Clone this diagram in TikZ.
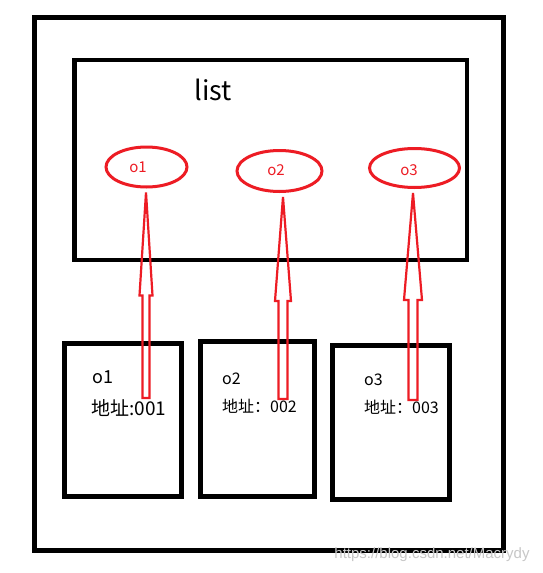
\documentclass[tikz,border=0pt]{standalone}
\usepackage{fontspec}
\setmainfont{Noto Sans CJK SC}
\newfontfamily\markfont{Liberation Sans}
\usetikzlibrary{positioning,calc,shapes.geometric}

\definecolor{paintred}{RGB}{237,28,36}

\tikzset{
    frame/.style={draw=black, line width=4.5pt, inner sep=0pt},
    objbox/.style={draw=black, line width=5pt, inner sep=0pt},
    refnode/.style={ellipse, draw=paintred, line width=3pt, inner sep=0pt},
    reflabel/.style={text=paintred, font=\fontsize{15}{15}\selectfont, inner sep=0pt},
    objtext/.style={anchor=west, inner sep=0pt},
    refline/.style={draw=paintred, line width=2.2pt, line join=miter}
}

% hollow block arrow: #1 start, #2 target node, #3 head length, #4 shaft half width, #5 head half width
\newcommand{\hollowarrow}[5]{%
    \draw[refline] let \p1=(#1), \p2=([yshift=-4pt]#2.south) in
        (\x1-#4,\y1) -- (\x1-#4,\y2-#3) -- (\x1-#5,\y2-#3) -- (\x1,\y2)
        -- (\x1+#5,\y2-#3) -- (\x1+#4,\y2-#3) -- (\x1+#4,\y1) -- cycle;
}

\begin{document}
\begin{tikzpicture}[x=1pt, y=-1pt]
    \useasboundingbox[fill=white] (0,0) rectangle (543,573);

    % Outer frame and list
    \node[frame, minimum width=469pt, minimum height=533pt] (outer) at (269,284) {};
    \node[frame, minimum width=392.5pt, minimum height=200pt] (list) at (270.75,160) {};
    \node[inner sep=0pt, font=\fontsize{27}{27}\selectfont] (listname) at (213,90) {list};

    % References held by the list
    \node[refnode, minimum width=81pt, minimum height=40pt] (o1) at (146.5,167) {};
    \node[refnode, minimum width=85pt, minimum height=41pt] (o2) at (279.5,171) {};
    \node[refnode, minimum width=90pt, minimum height=39pt] (o3) at (414.5,168) {};
    \node[reflabel] (o1name) at (138,167) {o1};
    \node[reflabel] (o2name) at (276,170) {o2};
    \node[reflabel] (o3name) at (409,170) {o3};

    % Objects
    \node[objbox, minimum width=117pt, minimum height=153pt] (obj1) at (123,420) {};
    \node[objbox, minimum width=114pt, minimum height=155pt] (obj2) at (257.5,419) {};
    \node[objbox, minimum width=117pt, minimum height=154pt] (obj3) at (391,422) {};

    \node[objtext, font=\fontsize{18}{18}\selectfont] (obj1name) at (92,377) {o1};
    \node[objtext, font=\fontsize{19}{19}\selectfont] (obj1addr) at (91,408) {地址:001};
    \node[objtext, font=\fontsize{16}{16}\selectfont] (obj2name) at (222,379) {o2};
    \node[objtext, font=\fontsize{16}{16}\selectfont] (obj2addr) at (222,406) {地址：002};
    \node[objtext, font=\fontsize{16}{16}\selectfont] (obj3name) at (364,380) {o3};
    \node[objtext, font=\fontsize{16}{16}\selectfont] (obj3addr) at (364,407) {地址：003};

    % Arrows from the objects up to the references
    \coordinate (s1) at (146,398);
    \coordinate (s2) at (283,399);
    \coordinate (s3) at (413,400);
    \hollowarrow{s1}{o1}{103pt}{3.5pt}{6.5pt}
    \hollowarrow{s2}{o2}{104pt}{4.5pt}{8pt}
    \hollowarrow{s3}{o3}{107pt}{4.5pt}{9pt}

    % Watermark
    \node[inner sep=0pt, text=black!22, font=\markfont\fontsize{15}{15}\selectfont] (mark) at (432,555) {https://blog.csdn.net/Macrydy};
\end{tikzpicture}
\end{document}
